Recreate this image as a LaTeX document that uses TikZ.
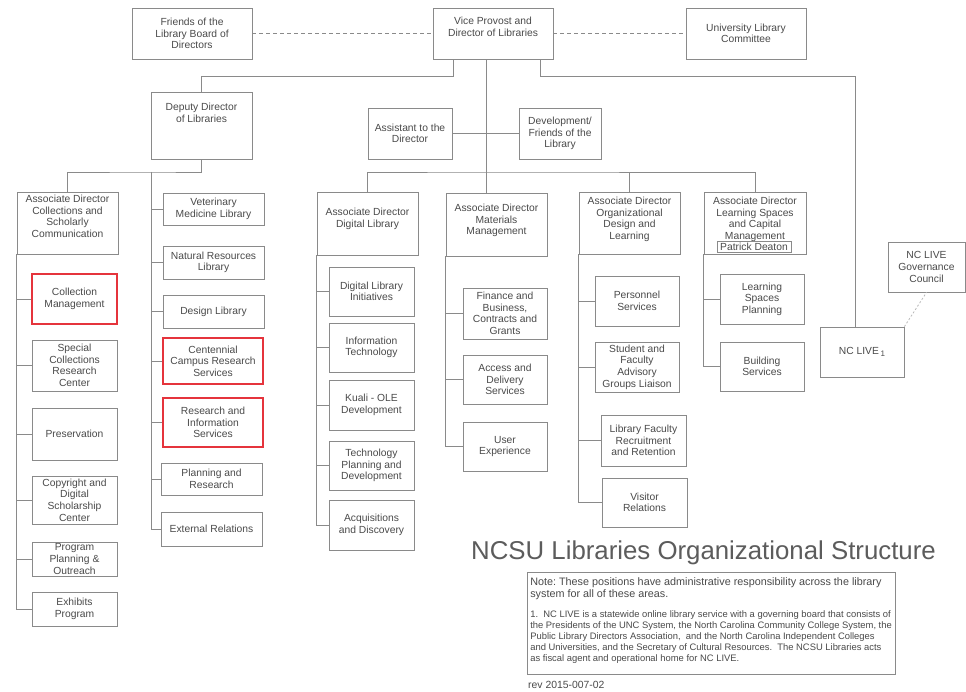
\documentclass[tikz,border=0pt]{standalone}
\usepackage{fontspec}
\setmainfont{Liberation Sans}
\usepackage{xcolor}
\usetikzlibrary{positioning,calc}
\frenchspacing

\definecolor{linegray}{HTML}{8A8A8A}
\definecolor{textgray}{HTML}{4A4A4A}
\definecolor{hlred}{HTML}{E5343C}

% top aligned text inside a box: width, height, top gap, lines
\newcommand{\headlines}[4]{\parbox[c][#2pt][t]{#1pt}{\centering\vspace*{#3pt}#4}}

\begin{document}
\begin{tikzpicture}[x=1pt,y=-1pt,
    unit/.style={draw=linegray, line width=0.8pt, text=textgray, align=center,
      inner sep=1pt, font=\fontsize{10.3}{11.6}\selectfont},
    box/.style 2 args={unit, minimum width=#1, minimum height=#2},
    focus/.style 2 args={box={#1}{#2}, draw=hlred, line width=1.8pt},
    link/.style={draw=linegray, line width=0.8pt},
    dashlink/.style={link, dash pattern=on 4pt off 3pt},
    dotlink/.style={draw=linegray!60, line width=0.8pt, dash pattern=on 2pt off 2pt},
    notebox/.style={draw=linegray, line width=0.6pt, text=textgray, inner sep=3pt,
      font=\fontsize{9.4}{11}\selectfont},
    titletext/.style={text=textgray!90, font=\fontsize{25.8}{30}\selectfont},
    revtext/.style={text=textgray, inner sep=1pt, font=\fontsize{10.4}{12}\selectfont}]
    % Page
    \useasboundingbox[fill=white] (0,0) rectangle (966,692);

    % Top row
    \node[box={120}{51}] (friends) at (192,33.5) {Friends of the\\Library Board of\\Directors};
    \node[box={120}{51}] (vp) at (493,33.5) {\headlines{116}{49}{8}{Vice Provost and\\Director of Libraries}};
    \node[box={120}{51}] (ulc) at (746,33.5) {University Library\\Committee};

    \node[box={101}{67}] (deputy) at (201.5,125.5) {\headlines{97}{65}{10}{Deputy Director\\of Libraries}};
    \node[box={84}{51}] (assist) at (410,133.5) {Assistant to the\\Director};
    \node[box={82}{51}] (devel) at (560,133.5) {Development/\\Friends of the\\Library};

    % Associate directors
    \node[box={101}{62}] (adcol) at (67.5,223) {\headlines{97}{60}{2}{Associate Director\\Collections and\\Scholarly\\Communication}};
    \node[box={101}{63}] (addig) at (367.5,223.5) {\headlines{97}{61}{15}{Associate Director\\Digital Library}};
    \node[box={101}{63}] (admat) at (496.5,224.5) {\headlines{97}{61}{10}{Associate Director\\Materials\\Management}};
    \node[box={101}{62}] (adorg) at (629.5,223) {\headlines{97}{60}{4}{Associate Director\\Organizational\\Design and\\Learning}};
    \node[box={102}{62}] (adlrn) at (755,223) {\headlines{98}{60}{4}{Associate Director\\Learning Spaces\\and Capital\\Management}};
    \node[box={74}{11}, line width=0.5pt, inner sep=0pt] (deaton) at (754,246.5) {Patrick Deaton};

    % Collections and Scholarly Communication
    \node[focus={85}{50}] (colmgmt) at (74.5,299) {Collection\\Management};
    \node[box={85}{51}] (special) at (74.5,365.5) {Special\\Collections\\Research\\Center};
    \node[box={85}{52}] (preserv) at (74.5,434) {Preservation};
    \node[box={85}{48}] (copyright) at (74.5,500) {Copyright and\\Digital\\Scholarship\\Center};
    \node[box={85}{34}] (program) at (74.5,559) {Program\\Planning \&\\Outreach};
    \node[box={85}{34}] (exhibits) at (74.5,609) {Exhibits\\Program};

    % Deputy Director units
    \node[box={101}{32}] (vet) at (213.5,209) {Veterinary\\Medicine Library};
    \node[box={101}{33}] (natres) at (213.5,262.5) {Natural Resources\\Library};
    \node[box={101}{33}] (design) at (213.5,311.5) {Design Library};
    \node[focus={100}{46}] (centen) at (213,361) {Centennial\\Campus Research\\Services};
    \node[focus={100}{49}] (research) at (213,422.5) {Research and\\Information\\Services};
    \node[box={101}{32}] (planres) at (211.5,479) {Planning and\\Research};
    \node[box={101}{34}] (extrel) at (211.5,529) {External Relations};

    % Digital Library
    \node[box={85}{49}] (dlinit) at (371.5,291.5) {Digital Library\\Initiatives};
    \node[box={85}{49}] (infotech) at (371.5,347.5) {Information\\Technology};
    \node[box={85}{50}] (kuali) at (371.5,405) {Kuali - OLE\\Development};
    \node[box={85}{49}] (techplan) at (371.5,465.5) {Technology\\Planning and\\Development};
    \node[box={85}{50}] (acqdisc) at (371.5,525) {Acquisitions\\and Discovery};

    % Materials Management
    \node[box={84}{51}] (finance) at (505,313.5) {Finance and\\Business,\\Contracts and\\Grants};
    \node[box={84}{49}] (access) at (505,379.5) {Access and\\Delivery\\Services};
    \node[box={84}{49}] (userexp) at (505,446.5) {User\\Experience};

    % Organizational Design and Learning
    \node[box={84}{50}] (personnel) at (637,301) {Personnel\\Services};
    \node[box={84}{50}] (studfac) at (637,367) {Student and\\Faculty\\Advisory\\Groups Liaison};
    \node[box={85}{51}] (libfac) at (643.5,440.5) {Library Faculty\\Recruitment\\and Retention};
    \node[box={85}{49}] (visitor) at (644.5,502.5) {Visitor\\Relations};

    % Learning Spaces and Capital Management
    \node[box={84}{50}] (lsplan) at (762,299) {Learning\\Spaces\\Planning};
    \node[box={84}{49}] (building) at (762,366.5) {Building\\Services};

    % NC LIVE
    \node[box={84}{50}] (nclive) at (862,352) {NC LIVE\,\raisebox{-2.5pt}{\fontsize{8}{9}\selectfont 1}};
    \node[box={77}{50}] (govcouncil) at (926.5,267) {NC LIVE\\Governance\\Council};

    % Title and note
    \node[titletext] (title) at (703.5,553) {NCSU Libraries Organizational Structure};
    \node[notebox, anchor=north west] (note) at (527,572) {\parbox[c][96pt][t]{362pt}{\raggedright\vspace*{2pt}%
      {\fontsize{10.8}{12}\selectfont Note: These positions have administrative responsibility across the library\\
      system for all of these areas.\par}\vspace{9pt}
      1.~~NC LIVE is a statewide online library service with a governing board that consists of\\
      the Presidents of the UNC System, the North Carolina Community College System, the\\
      Public Library Directors Association,~~and the North Carolina Independent Colleges\\
      and Universities, and the Secretary of Cultural Resources.~~The NCSU Libraries acts\\
      as fiscal agent and operational home for NC LIVE.}};
    \node[revtext, anchor=west] (rev) at (527,685) {rev 2015-007-02};

    % Connections at the top
    \draw[dashlink] (friends) -- (vp);
    \draw[dashlink] (vp) -- (ulc);
    \draw[link] ([xshift=-40pt]vp.south) -- ++(0,17) -| (deputy.north);
    \draw[link] ([xshift=47pt]vp.south) -- ++(0,17) -| ([xshift=-7pt]nclive.north);
    \draw[link] ([xshift=-7pt]vp.south) -- ([xshift=-7pt]vp.south |- admat.north);
    \draw[link] (assist) -- (devel);
    \draw[dotlink] (nclive.north east) -- (govcouncil.south);

    % Bus below the Vice Provost
    \coordinate (midbus) at (486,172);
    \draw[link] (addig.north) |- (midbus) -| (adlrn.north);
    \draw[link] (adorg.north) -- (adorg.north |- midbus);

    % Bus below the Deputy Director
    \coordinate (depbus) at (151,172);
    \draw[link] (deputy.south) |- (depbus) -| (adcol.north);
    \draw[link] (depbus) |- (extrel.west);
    \foreach \n in {vet,natres,design,centen,research,planres}
        \draw[link] (depbus |- \n.west) -- (\n.west);

    % Spines
    \draw[link] (adcol.south west) |- (exhibits.west);
    \foreach \n in {colmgmt,special,preserv,copyright,program}
        \draw[link] (adcol.south west |- \n.west) -- (\n.west);
    \draw[link] (addig.south west) |- (acqdisc.west);
    \foreach \n in {dlinit,infotech,kuali,techplan}
        \draw[link] (addig.south west |- \n.west) -- (\n.west);
    \draw[link] (admat.south west) |- (userexp.west);
    \foreach \n in {finance,access}
        \draw[link] (admat.south west |- \n.west) -- (\n.west);
    \draw[link] (adorg.south west) |- (visitor.west);
    \foreach \n in {personnel,studfac,libfac}
        \draw[link] (adorg.south west |- \n.west) -- (\n.west);
    \draw[link] (adlrn.south west) |- (building.west);
    \draw[link] (adlrn.south west |- lsplan.west) -- (lsplan.west);
\end{tikzpicture}
\end{document}
